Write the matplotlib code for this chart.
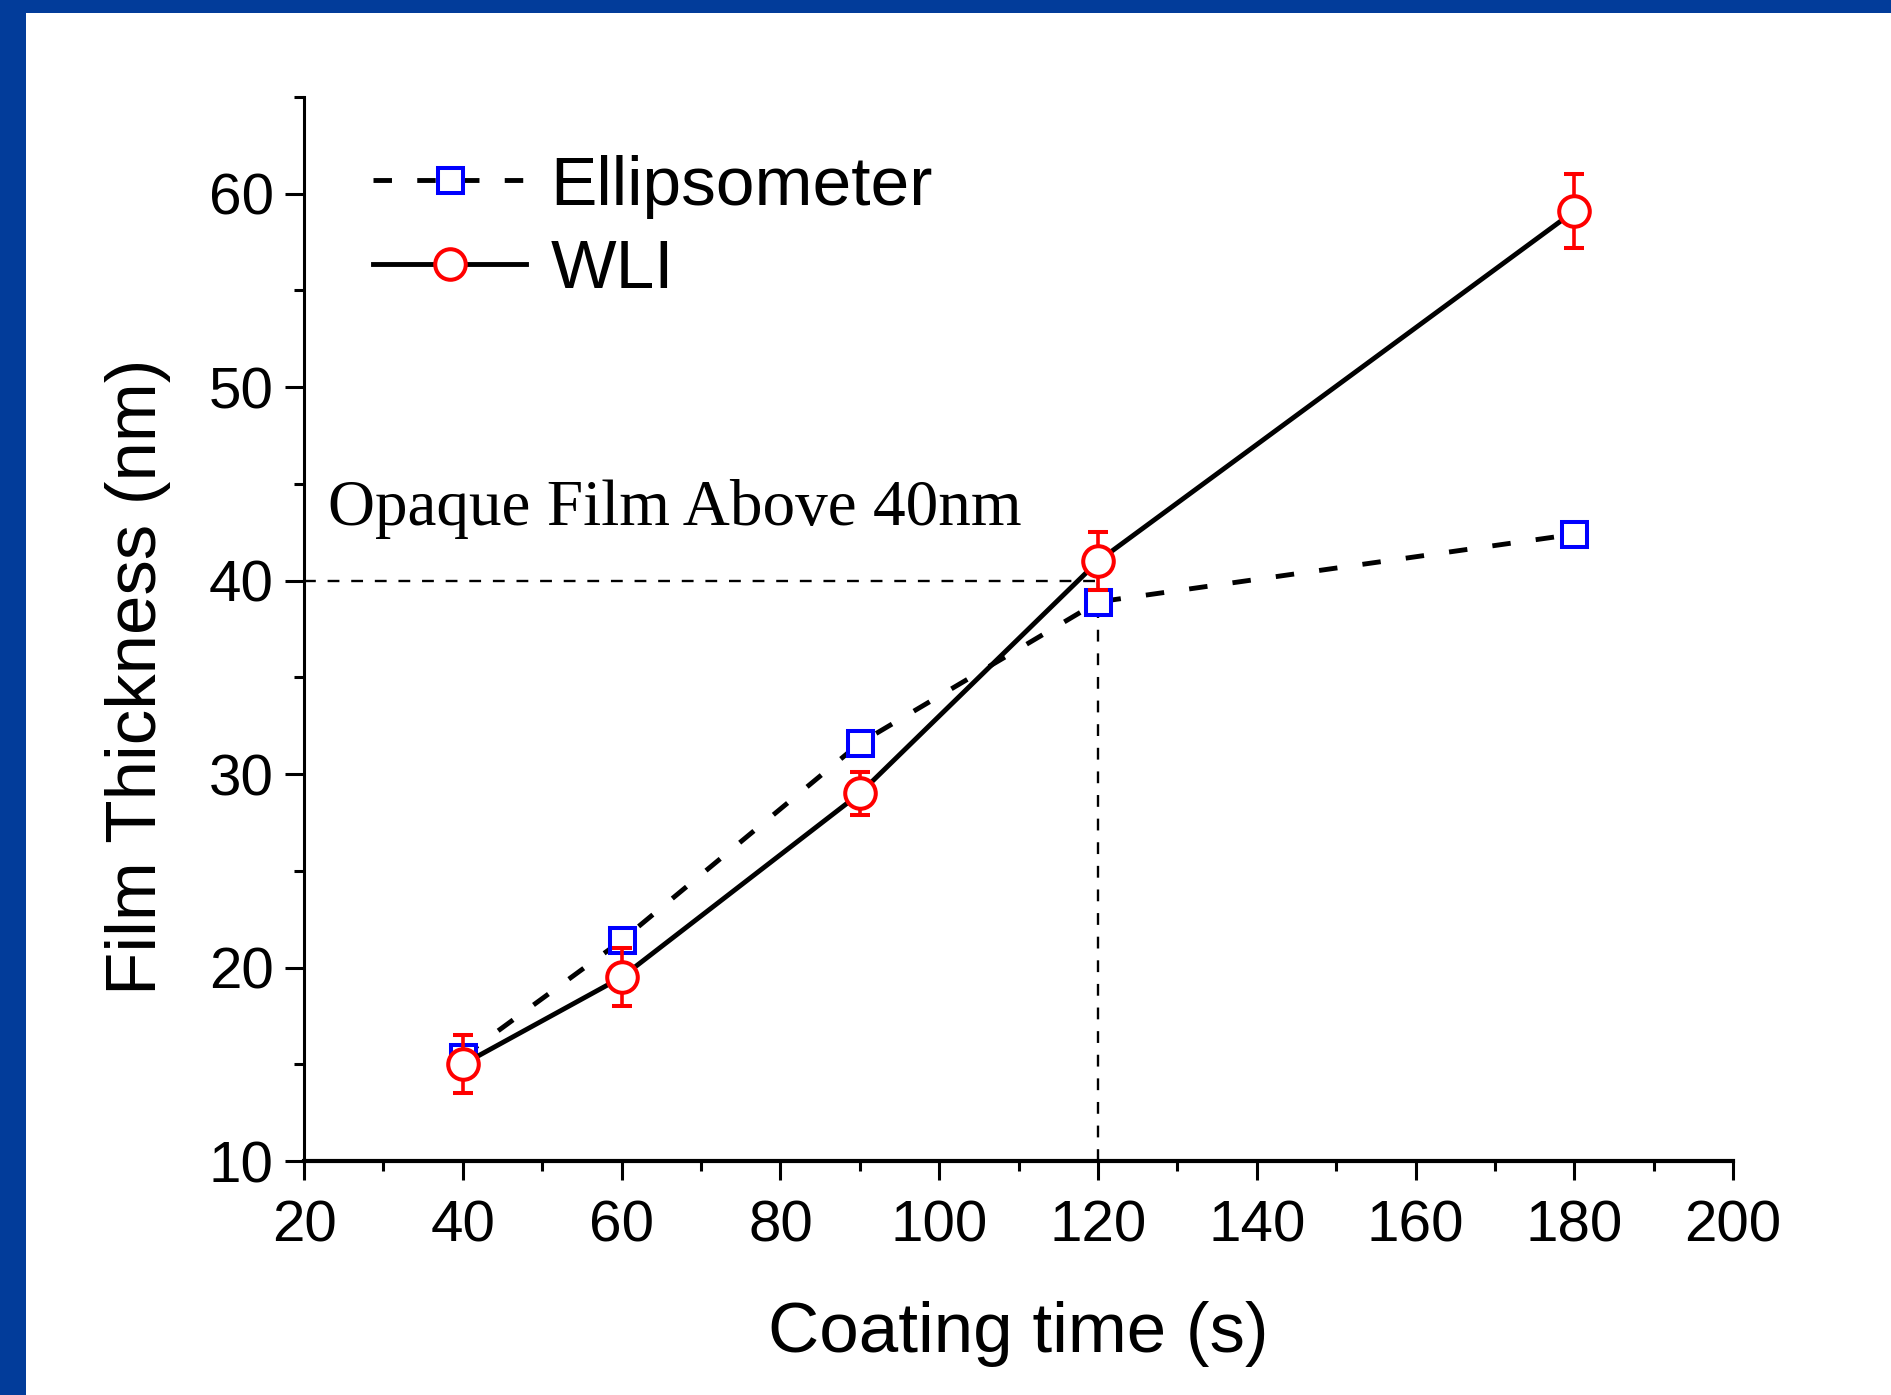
# -*- coding: utf-8 -*-
import matplotlib
matplotlib.use("Agg")
import matplotlib.pyplot as plt
from matplotlib.lines import Line2D
from matplotlib.patches import Rectangle
from matplotlib.ticker import MultipleLocator

# data
coating_time = [40, 60, 90, 120, 180]
ellipsometer = [15.4, 21.4, 31.6, 38.9, 42.4]
ellipsometer_err = [0.3, 0.4, 0.4, 0.0, 0.0]
wli = [15.0, 19.5, 29.0, 41.0, 59.1]
wli_err = [1.5, 1.5, 1.1, 1.5, 1.9]
opaque_limit = 40
opaque_time = 120
note = "Opaque Film Above 40nm"

plt.rcParams["font.family"] = ["Liberation Sans", "DejaVu Sans"]

fig = plt.figure(figsize=(18.91, 13.95), dpi=100)
fig.patch.set_facecolor("#023c9a")
fig.add_artist(Rectangle((26 / 1891, 0), 1, (1395 - 13) / 1395,
                         transform=fig.transFigure, facecolor="white",
                         edgecolor="none", zorder=0))

ax = fig.add_axes([0.1608, 0.1677, 0.9165 - 0.1608, 0.9305 - 0.1677])
ax.set_facecolor("none")

# guide lines for the 40 nm limit
ax.plot([20, opaque_time], [opaque_limit, opaque_limit], color="black",
        lw=1.7, ls=(0, (5, 5)), zorder=1)
ax.plot([opaque_time, opaque_time], [10, opaque_limit], color="black",
        lw=1.7, ls=(0, (5, 5)), zorder=1)

lw = 3.5
ell_style = dict(color="black", ls="--", dashes=(3.8, 5.2), lw=lw, marker="s",
                 ms=18, mfc="white", mec="blue", mew=2.9)
wli_style = dict(color="black", ls="-", lw=lw, marker="o", ms=22,
                 mfc="white", mec="red", mew=2.9)

ax.errorbar(coating_time, ellipsometer, yerr=ellipsometer_err, ecolor="blue",
            elinewidth=2.0, capsize=6, capthick=2.0, zorder=2, **ell_style)
ax.errorbar(coating_time, wli, yerr=wli_err, ecolor="red", elinewidth=2.6,
            capsize=7.5, capthick=3.5, zorder=3, **wli_style)

ax.text(23, 43.7, note, family="Liberation Serif", fontsize=47,
        va="center", ha="left")

ax.set_xlim(20, 200)
ax.set_ylim(10, 65)
ax.xaxis.set_major_locator(MultipleLocator(20))
ax.xaxis.set_minor_locator(MultipleLocator(10))
ax.yaxis.set_minor_locator(MultipleLocator(5))
ax.set_yticks([10, 20, 30, 40, 50, 60])

for side in ["top", "right"]:
    ax.spines[side].set_visible(False)
ax.spines["left"].set_linewidth(2.2)
ax.spines["bottom"].set_linewidth(3.0)
ax.tick_params(which="major", direction="out", length=14, width=2.2,
               labelsize=42, pad=8)
ax.tick_params(axis="x", which="major", pad=14)
ax.tick_params(which="minor", direction="out", length=7, width=2.2)

ax.set_xlabel("Coating time (s)", fontsize=51, labelpad=34)
ax.set_ylabel("Film Thickness (nm)", fontsize=51)
ax.yaxis.set_label_coords(-0.093, 0.455)

handles = [Line2D([], [], **ell_style), Line2D([], [], **wli_style)]
ax.legend(handles, ["Ellipsometer", "WLI"], loc="upper left",
          bbox_to_anchor=(0.029, 0.972), frameon=False, fontsize=50,
          handlelength=2.2, handletextpad=0.35, labelspacing=0.28,
          borderaxespad=0)

fig.savefig("out.png", dpi=100, facecolor=fig.get_facecolor())
